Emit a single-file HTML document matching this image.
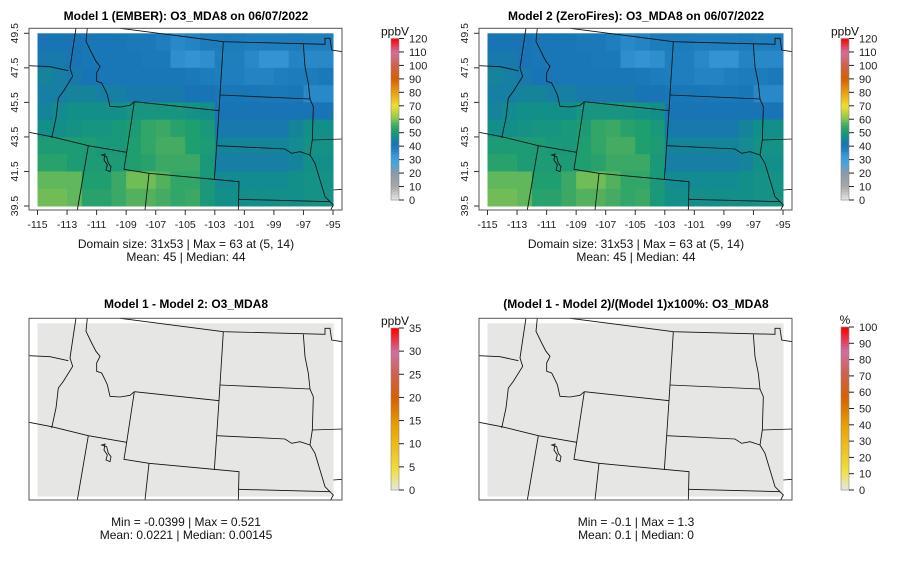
<!DOCTYPE html>
<html><head><meta charset="utf-8"><style>
html,body{margin:0;padding:0;background:#fff;}
svg{display:block;font-family:"Liberation Sans",sans-serif;}
</style></head><body>
<svg id="fig" width="900" height="579" viewBox="0 0 900 579" xmlns="http://www.w3.org/2000/svg"></svg>
<script>
// ---- data ----
const lonTicks = [-115,-113,-111,-109,-107,-105,-103,-101,-99,-97,-95];
const latTicks = [39.5,41.5,43.5,45.5,47.5,49.5];
const lonEdges = [-115,-95];
const latEdges = [39.5,49.5];
// rows from north (49.5) to south (39.5), columns from -115 to -95 (1 degree cells)
const o3Model1 = [
 [42,42,42,41,41,41,40,40,38,36,37,39,39,39,38,38,38,39,38,38],
 [43,43,42,41,41,41,41,40,40,35,34,35,38,38,36,34,34,37,36,36],
 [45,44,43,42,41,41,41,41,41,41,40,39,38,38,37,37,38,39,39,40],
 [44,44,45,45,44,44,43,43,43,43,42,42,41,41,41,40,40,41,36,36],
 [45,46,47,47,47,47,49,49,49,49,48,47,42,42,42,42,42,42,42,42],
 [47,47,48,49,49,50,51,54,55,53,52,50,43,43,43,43,43,45,47,47],
 [51,51,51,51,50,50,52,54,56,56,52,51,45,45,45,45,45,46,48,48],
 [53,53,51,51,51,51,52,53,55,55,55,50,44,44,44,44,44,45,47,47],
 [58,58,58,52,52,55,59,59,57,54,54,50,46,46,46,46,46,47,48,48],
 [59,59,58,53,53,55,57,57,56,54,55,50,47,47,47,47,47,47,48,48]
];
const o3Model2 = o3Model1.map(r => r.slice());
const diffValues = o3Model1.map(r => r.map(() => 0.02));
const pctValues = o3Model1.map(r => r.map(() => 0.1));
const o3Ticks = [0,10,20,30,40,50,60,70,80,90,100,110,120];
const diffTicks = [0,5,10,15,20,25,30,35];
const pctTicks = [0,10,20,30,40,50,60,70,80,90,100];

// ---- colormaps ----
const o3Stops = [[0,'#e8e8e8'],[10,'#a8a8a8'],[20,'#8c9aa8'],[28,'#45a5e0'],[33,'#3a98d8'],[38,'#1e7ebe'],[42,'#1874b4'],[47,'#138f8a'],[52,'#1f9e70'],[56,'#45ab62'],[61,'#8cc850'],[70,'#f0e030'],[80,'#e8a010'],[90,'#d86000'],[100,'#d06048'],[110,'#d070a0'],[120,'#ff0000']];
const hotStops = [[0,'#e6e6e6'],[0.12,'#f0e040'],[0.4,'#e8a000'],[0.57,'#d86000'],[0.72,'#d06050'],[0.85,'#d070a0'],[1,'#ff0000']];
function hex(c){return [parseInt(c.substr(1,2),16),parseInt(c.substr(3,2),16),parseInt(c.substr(5,2),16)];}
function cmap(stops,v){
  if(v<=stops[0][0]) return stops[0][1];
  for(let i=1;i<stops.length;i++){
    if(v<=stops[i][0]){const a=stops[i-1],b=stops[i];const t=(v-a[0])/(b[0]-a[0]);
      const A=hex(a[1]),B=hex(b[1]);return 'rgb('+A.map((x,k)=>Math.round(x+(B[k]-x)*t)).join(',')+')';}
  }
  return stops[stops.length-1][1];
}
const NS='http://www.w3.org/2000/svg';
const svg=document.getElementById('fig');
function mk(tag,attrs,parent){const e=document.createElementNS(NS,tag);for(const k in attrs)e.setAttribute(k,attrs[k]);(parent||svg).appendChild(e);return e;}

const boundaryPaths=[
 'M228,84 L218,150 L210,204 L218,229 L190,274 L175,294 L168,354 L155,414',
 'M262,84 L258,124 L275,159 L288,184 L300,199 L290,219 L290,244 L305,249 L315,269 L322,284 L330,319 L360,321 L390,316 L403,305',
 'M403,305 L657,332 L650,437 L643,540',
 'M403,305 L380,457 L372,508 L447,520 L717,545 L715,630',
 'M670,125 L657,332',
 'M660,285 L930,297',
 'M650,437 L855,447 L875,460 L900,455 L930,465',
 'M715,598 L990,605',
 'M360,85 L670,125 L975,133 L975,115 L990,115 L995,150 L1027,155',
 'M910,133 L915,200 L925,250 L930,297 L940,320 L937,420 L930,465 L945,490 L960,540 L975,590 L990,605 L1000,615 L992,630',
 'M937,420 L1027,417','M1000,570 L1027,568',
 'M87,197 L150,200 L205,212',
 'M87,397 L155,410 L265,437 L380,457',
 'M265,437 L232,630','M447,520 L435,630',
 'M305,465 L315,462 L312,480 L322,495 L318,510 L330,515 L333,500 L325,490 L320,470 Z'
];

function panel(ox,oy,opt){
  const g=mk('g',{transform:'translate('+ox+','+oy+')'});
  
  
  const t=mk('text',{x:186,y:opt.axes?20:18,'text-anchor':'middle','font-size':'12','font-weight':'bold',fill:'#000'},g);
  t.textContent=opt.title;
  
  
  const x0=37.5,x1=333,y0=33.3,y1=206;
  const xs=lon=>x0+(lon-lonEdges[0])/(lonEdges[1]-lonEdges[0])*(x1-x0);
  const ys=lat=>y0+(latEdges[1]-lat)/(latEdges[1]-latEdges[0])*(y1-y0);
  const nr=opt.data.length,nc=opt.data[0].length;
  const dLon=(lonEdges[1]-lonEdges[0])/nc,dLat=(latEdges[1]-latEdges[0])/nr;
  for(let r=0;r<nr;r++)for(let c=0;c<nc;c++){
    const lx=lonEdges[0]+c*dLon,ly=latEdges[1]-r*dLat;
    const cell=mk('rect',{x:xs(lx),y:ys(ly),width:xs(lx+dLon)-xs(lx)+0.5,height:ys(ly-dLat)-ys(ly)+0.5,fill:cmap(opt.stops,opt.data[r][c]*opt.scale)},g);
    
    
  }
  const bg=mk('g',{transform:'scale(0.33333)',fill:'none',stroke:'#111','stroke-width':'2.6'},g);
  
  
  boundaryPaths.forEach(d=>mk('path',{d:d},bg));
  const box=mk('rect',{x:29,y:28.3,width:313,height:181.7,fill:'none',stroke:'#555','stroke-width':'1'},g);
  
  
  if(opt.axes){
    const xa=mk('g',{},g);
    
    
    lonTicks.forEach(v=>{
      mk('line',{x1:xs(v),x2:xs(v),y1:210,y2:215,stroke:'#333'},xa);
      const tt=mk('text',{x:xs(v),y:228,'text-anchor':'middle','font-size':'10.5',fill:'#222'},xa);tt.textContent=v;
    });
    const ya=mk('g',{},g);
    
    
    latTicks.forEach(v=>{
      mk('line',{x1:24,x2:29,y1:ys(v),y2:ys(v),stroke:'#333'},ya);
      const tt=mk('text',{x:0,y:0,transform:'translate(18,'+ys(v)+') rotate(-90)','text-anchor':'middle','font-size':'10.5',fill:'#222'},ya);tt.textContent=v.toFixed(1);
    });
  }
  opt.notes.forEach((s,i)=>{
    const n=mk('text',{x:186,y:opt.noteY+i*13,'text-anchor':'middle','font-size':'12',fill:'#111'},g);
    n.textContent=s;
    
    
  });
  const cb=mk('g',{},g);
  
  
  const cy0=opt.cb[0],cy1=opt.cb[1],vmax=opt.ticks[opt.ticks.length-1];
  const cbs=v=>cy1-v/vmax*(cy1-cy0);
  const N=60;
  for(let i=0;i<N;i++){
    const v0=i*vmax/N;
    mk('rect',{x:391,y:cbs(v0+vmax/N),width:8,height:(cy1-cy0)/N+0.4,fill:cmap(opt.stops,(v0+vmax/N/2)*opt.cbScale)},cb);
  }
  mk('rect',{x:391,y:cy0,width:8,height:cy1-cy0,fill:'none',stroke:'#888','stroke-width':'0.6'},cb);
  opt.ticks.forEach(v=>{
    mk('line',{x1:399,x2:404,y1:cbs(v),y2:cbs(v),stroke:'#222'},cb);
    const tt=mk('text',{x:409,y:cbs(v)+4,'font-size':'11',fill:'#222'},cb);tt.textContent=v;
  });
  const u=mk('text',{x:395,y:cy0-3,'text-anchor':'middle','font-size':'12',fill:'#111'},cb);u.textContent=opt.unit;
}
const o3Opt={stops:o3Stops,scale:1,cbScale:1,ticks:o3Ticks,unit:'ppbV',axes:true,cb:[38.5,200],noteY:248};
panel(0,0,Object.assign({},o3Opt,{name:'panel-model1',title:'Model 1 (EMBER): O3_MDA8 on 06/07/2022',data:o3Model1,
  notes:['Domain size: 31x53 | Max = 63 at (5, 14)','Mean: 45 |  Median: 44']}));
panel(450,0,Object.assign({},o3Opt,{name:'panel-model2',title:'Model 2 (ZeroFires): O3_MDA8 on 06/07/2022',data:o3Model2,
  notes:['Domain size: 31x53 | Max = 63 at (5, 14)','Mean: 45 |  Median: 44']}));
panel(0,290,{name:'panel-difference',title:'Model 1 - Model 2: O3_MDA8',data:diffValues,stops:hotStops,scale:1/35,cbScale:1/35,
  ticks:diffTicks,unit:'ppbV',axes:false,cb:[38,200],noteY:236,notes:['Min = -0.0399 | Max = 0.521','Mean: 0.0221 |  Median: 0.00145']});
panel(450,290,{name:'panel-percent-difference',title:'(Model 1 - Model 2)/(Model 1)x100%: O3_MDA8',data:pctValues,stops:hotStops,scale:1/100,cbScale:1/100,
  ticks:pctTicks,unit:'%',axes:false,cb:[37,200],noteY:236,notes:['Min = -0.1 | Max = 1.3','Mean: 0.1 |  Median: 0']});
</script>
</body></html>
